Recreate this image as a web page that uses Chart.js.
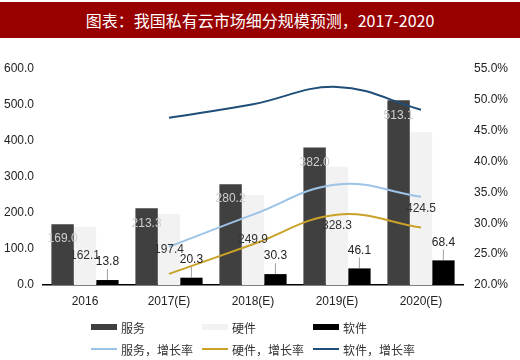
<!DOCTYPE html>
<html><head><meta charset="utf-8">
<script src="https://cdn.jsdelivr.net/npm/chart.js@4.4.1/dist/chart.umd.min.js"></script>
<style>
html,body{margin:0;padding:0;background:#fff;width:520px;height:360px;overflow:hidden;position:relative;font-family:"Noto Sans CJK SC",sans-serif;}
#title{position:absolute;left:0;top:2px;width:520px;height:36px;background:#980000;color:#fff;font-size:16px;line-height:36px;text-align:center;font-family:"Noto Sans CJK SC",serif;}
#wrap{position:absolute;left:0;top:0;width:520px;height:322px;}
#c{display:block;}
#legend{position:absolute;left:91px;top:318px;width:340px;display:grid;grid-template-columns:111px 111px 118px;row-gap:4px;font-size:12px;color:#333;}
.it{display:flex;align-items:center;height:18px;white-space:nowrap;}
.sw{display:inline-block;width:26px;margin-right:4px;}
</style></head>
<body>
<div id="title">图表：我国私有云市场细分规模预测，2017-2020</div>
<div id="wrap"><canvas id="c" width="520" height="322"></canvas></div>
<div id="legend"></div>
<script>
const categories = ["2016","2017(E)","2018(E)","2019(E)","2020(E)"];
const service = [169.0, 213.3, 280.2, 382.0, 513.1];
const hardware = [162.1, 197.4, 249.9, 328.3, 424.5];
const software = [13.8, 20.3, 30.3, 46.1, 68.4];
const serviceGrowth = [null, 26.2, 31.4, 36.3, 34.3];
const hardwareGrowth = [null, 21.8, 26.6, 31.4, 29.3];
const softwareGrowth = [null, 47.1, 49.3, 52.1, 48.4];
const leftTicks = [0,100,200,300,400,500,600];
const rightTicks = [20,25,30,35,40,45,50,55];

const NUM_FAMILY = '"Liberation Sans", Arial, sans-serif';
const NUM_FONT = '12px ' + NUM_FAMILY;

const labelPlugin = {
  id: 'barLabels',
  afterDatasetsDraw(chart) {
    const ctx = chart.ctx;
    ctx.save();
    ctx.font = NUM_FONT;
    ctx.textAlign = 'center';
    ctx.textBaseline = 'middle';
    chart.data.datasets.forEach((ds, di) => {
      if (ds.type !== 'bar') return;
      const meta = chart.getDatasetMeta(di);
      meta.data.forEach((el, i) => {
        const v = ds.data[i];
        const txt = v.toFixed(1);
        if (di === 0) {
          ctx.fillStyle = '#d0d0d0';
          ctx.fillText(txt, el.x, el.y + 15);
        } else if (di === 1) {
          ctx.fillStyle = '#333';
          ctx.fillText(txt, el.x, (el.y + el.base) / 2);
        } else {
          const ly = el.y - 18;
          ctx.fillStyle = '#222';
          ctx.fillText(txt, el.x, ly);
          if (el.y - (ly + 7) > 3) {
            ctx.strokeStyle = '#888';
            ctx.lineWidth = 0.8;
            ctx.beginPath();
            ctx.moveTo(el.x, ly + 7);
            ctx.lineTo(el.x, el.y);
            ctx.stroke();
          }
        }
      });
    });
    ctx.restore();
  }
};

const colors = {
  service: '#404040', hardware: '#f2f2f2', software: '#000000',
  sg: '#9dc3e6', hg: '#c9a227', wg: '#1f4e79'
};

new Chart(document.getElementById('c'), {
  type: 'bar',
  data: {
    labels: categories,
    datasets: [
      {type:'bar', label:'服务', data: service, backgroundColor: colors.service, yAxisID:'y', order:2},
      {type:'bar', label:'硬件', data: hardware, backgroundColor: colors.hardware, yAxisID:'y', order:2},
      {type:'bar', label:'软件', data: software, backgroundColor: colors.software, yAxisID:'y', order:2},
      {type:'line', label:'服务，增长率', data: serviceGrowth, borderColor: colors.sg, borderWidth:2, pointRadius:0, tension:0.4, yAxisID:'y1', order:1},
      {type:'line', label:'硬件，增长率', data: hardwareGrowth, borderColor: colors.hg, borderWidth:2, pointRadius:0, tension:0.4, yAxisID:'y1', order:1},
      {type:'line', label:'软件，增长率', data: softwareGrowth, borderColor: colors.wg, borderWidth:2, pointRadius:0, tension:0.4, yAxisID:'y1', order:1}
    ]
  },
  options: {
    responsive: false,
    animation: false,
    devicePixelRatio: 1,
    maintainAspectRatio: false,
    layout: {padding: {left: 0, right: 0, top: 69, bottom: 4}},
    datasets: {bar: {categoryPercentage: 0.8, barPercentage: 1.0}},
    plugins: {legend: {display: false}, tooltip: {enabled: false}, title: {display: false}},
    scales: {
      x: {
        grid: {display: false, drawTicks: false},
        border: {display: true, color: '#000', width: 1.5},
        ticks: {color: '#222', font: {family: NUM_FAMILY, size: 12}, padding: 9, maxRotation: 0},
        afterFit: s => { s.height = 33; }
      },
      y: {
        position: 'left', min: 0, max: 600,
        afterBuildTicks: s => { s.ticks = leftTicks.map(v => ({value: v})); },
        afterFit: s => { s.width = 43; },
        grid: {display: false, drawTicks: false}, border: {display: false},
        ticks: {color: '#222', font: {family: NUM_FAMILY, size: 12}, padding: 9, callback: v => Number(v).toFixed(1)}
      },
      y1: {
        position: 'right', min: 20, max: 55,
        afterBuildTicks: s => { s.ticks = rightTicks.map(v => ({value: v})); },
        afterFit: s => { s.width = 57; },
        grid: {display: false, drawTicks: false}, border: {display: false},
        ticks: {color: '#222', font: {family: NUM_FAMILY, size: 12}, padding: 11, callback: v => Number(v).toFixed(1) + '%'}
      }
    }
  },
  plugins: [labelPlugin]
});

const legendItems = [
  {t:'服务', c: colors.service, bar:true},
  {t:'硬件', c: colors.hardware, bar:true},
  {t:'软件', c: colors.software, bar:true},
  {t:'服务，增长率', c: colors.sg},
  {t:'硬件，增长率', c: colors.hg},
  {t:'软件，增长率', c: colors.wg}
];
const lg = document.getElementById('legend');
legendItems.forEach(it => {
  const d = document.createElement('div'); d.className = 'it';
  const s = document.createElement('span'); s.className = 'sw';
  s.style.height = it.bar ? '6px' : '2px'; s.style.background = it.c;
  const t = document.createElement('span'); t.textContent = it.t;
  d.appendChild(s); d.appendChild(t); lg.appendChild(d);
});
</script>
</body></html>
